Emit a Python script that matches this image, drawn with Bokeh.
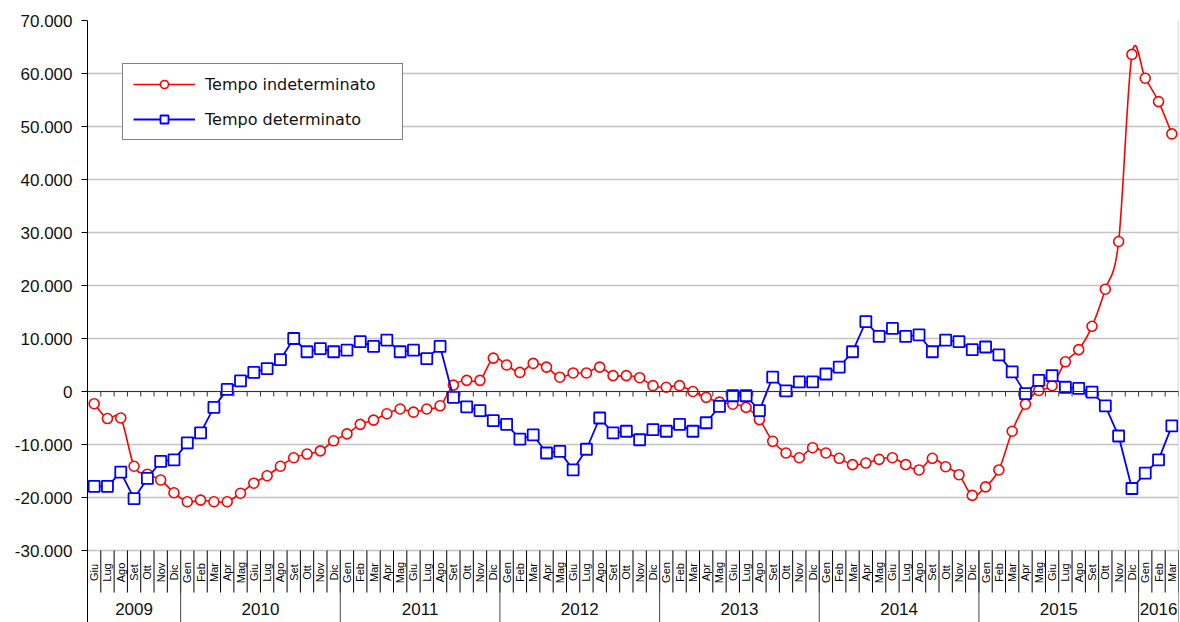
import numpy as np
from bokeh.plotting import figure
from bokeh.models import (Range1d, FixedTicker, LinearAxis, Legend, LegendItem,
                          ColumnDataSource, Grid, Span)
from bokeh.core.properties import value
from bokeh.embed import file_html
from bokeh.resources import INLINE

# ---------------- data ----------------
month_names = ["Gen", "Feb", "Mar", "Apr", "Mag", "Giu",
               "Lug", "Ago", "Set", "Ott", "Nov", "Dic"]
months = month_names[5:] + month_names * 6 + month_names[:3]   # Giu 2009 .. Mar 2016
years = ["2009", "2010", "2011", "2012", "2013", "2014", "2015", "2016"]
year_counts = [7, 12, 12, 12, 12, 12, 12, 3]

tempo_indeterminato = [
    -2300, -5100, -5000, -14100, -15600, -16700, -19100,
    -20800, -20500, -20800, -20800, -19200, -17300, -15900, -14100, -12500, -11800, -11200, -9300,
    -8000, -6200, -5400, -4200, -3300, -3900, -3300, -2700, 1200, 2100, 2100, 6300,
    5000, 3600, 5300, 4600, 2700, 3500, 3500, 4600, 3000, 3000, 2600, 1100,
    800, 1100, 0, -1100, -2000, -2400, -3000, -5300, -9400, -11600, -12500, -10600,
    -11600, -12600, -13800, -13500, -12800, -12500, -13800, -14800, -12600, -14200, -15700, -19600,
    -18000, -14800, -7500, -2400, 200, 1100, 5600, 7900, 12300, 19300, 28300, 63600,
    59100, 54700, 48600,
]
tempo_determinato = [
    -17900, -17900, -15200, -20200, -16400, -13200, -12900,
    -9700, -7800, -3000, 400, 2000, 3600, 4300, 6000, 10000, 7500, 8100, 7500,
    7800, 9400, 8500, 9700, 7500, 7800, 6200, 8500, -1100, -2900, -3600, -5500,
    -6200, -9000, -8200, -11600, -11300, -14800, -10900, -5000, -7800, -7500, -9100, -7200,
    -7500, -6200, -7500, -5900, -2800, -800, -800, -3600, 2700, 100, 1800, 1800,
    3300, 4600, 7500, 13200, 10400, 11900, 10400, 10700, 7500, 9700, 9400, 7900,
    8400, 6900, 3700, -400, 2100, 3000, 800, 600, -100, -2700, -8400, -18300,
    -15400, -12900, -6500,
]
y_ticks = [-30000, -20000, -10000, 0, 10000, 20000, 30000, 40000, 50000, 60000, 70000]

# ---------------- layout constants ----------------
W, H = 1180, 622
LEFT, TOP, RIGHT = 87, 20, 2
FRAME_H = H - TOP
PX_PER_UNIT = 530 / 100000.0           # -30.000 .. 70.000 spans 530 px
Y_TOP = 70000
Y_BOTTOM = Y_TOP - FRAME_H / PX_PER_UNIT


def py(px_from_frame_top):
    return Y_TOP - px_from_frame_top / PX_PER_UNIT


Y_MIN_PLOT = -30000
Y_MONTH_LABEL = py(552)
Y_MONTH_BOTTOM = py(572)
Y_YEAR_LABEL = py(588)
TICK_LEN = 5 / PX_PER_UNIT

n = len(months)
x = np.arange(n, dtype=float)

p = figure(width=W, height=H, output_backend="svg", toolbar_location=None, title=None,
           x_range=Range1d(-0.5, n - 0.5), y_range=Range1d(Y_BOTTOM, Y_TOP),
           x_axis_location=None, y_axis_location=None,
           min_border_left=LEFT, min_border_right=RIGHT, min_border_top=TOP, min_border_bottom=0)
p.outline_line_color = None
p.background_fill_color = "white"
p.border_fill_color = "white"
p.grid.visible = False

# y axis
labels = {float(v): (f"{v:,}".replace(",", ".")) for v in y_ticks}
yaxis = LinearAxis(ticker=FixedTicker(ticks=y_ticks), major_label_overrides=labels,
                   axis_line_color="black", axis_line_width=1,
                   major_tick_line_color="black", major_tick_out=6, major_tick_in=0,
                   minor_tick_line_color=None,
                   major_label_text_font="Liberation Sans",
                   major_label_text_font_size="17px", major_label_text_color="#111111",
                   major_label_standoff=9)
p.add_layout(yaxis, "left")

grid = Grid(dimension=1, ticker=FixedTicker(ticks=y_ticks),
            grid_line_color="#c4c4c4", grid_line_width=1.5)
p.add_layout(grid)

# right border of plot area
p.segment(x0=[n - 0.5], y0=[Y_MIN_PLOT], x1=[n - 0.5], y1=[Y_TOP],
          line_color="#c4c4c4", line_width=1.5)

# zero axis with tick marks
p.add_layout(Span(location=0, dimension="width", line_color="#333333", line_width=1.2))
bounds = np.arange(n + 1) - 0.5
p.segment(x0=bounds, y0=np.zeros(n + 1), x1=bounds, y1=np.full(n + 1, -TICK_LEN),
          line_color="#333333", line_width=1)

# category band: month separators, month labels, year separators and labels
p.segment(x0=bounds, y0=np.full(n + 1, Y_MIN_PLOT), x1=bounds, y1=np.full(n + 1, Y_MONTH_BOTTOM),
          line_color="black", line_width=1)
p.text(x=x, y=np.full(n, Y_MONTH_LABEL), text=months, angle=np.pi / 2,
       text_align="center", text_baseline="middle",
       text_font=value("Liberation Sans"), text_font_size="11px", text_color="black")

cum = np.cumsum([0] + year_counts)
ybounds = cum - 0.5
p.segment(x0=ybounds, y0=np.full(len(ybounds), Y_MIN_PLOT), x1=ybounds,
          y1=np.full(len(ybounds), Y_BOTTOM), line_color="#444444", line_width=1)
ycenters = (cum[:-1] + cum[1:] - 1) / 2.0
p.text(x=ycenters, y=np.full(len(years), Y_YEAR_LABEL), text=years,
       text_align="center", text_baseline="middle",
       text_font=value("Liberation Sans"), text_font_size="17px", text_color="#111111")

# ---------------- series ----------------
RED, BLUE = "#ff0000", "#0000ff"

# smoothed red line (Catmull-Rom style bezier through the data points)
yi = np.array(tempo_indeterminato, dtype=float)
xp = np.r_[x[0], x, x[-1]]
yp = np.r_[yi[0], yi, yi[-1]]
seg = np.arange(n - 1)
cx0 = x[seg] + (xp[seg + 2] - xp[seg]) / 6.0
cy0 = yi[seg] + (yp[seg + 2] - yp[seg]) / 6.0
cx1 = x[seg + 1] - (xp[seg + 3] - xp[seg + 1]) / 6.0
cy1 = yi[seg + 1] - (yp[seg + 3] - yp[seg + 1]) / 6.0
r_red_line = p.bezier(x0=x[seg], y0=yi[seg], x1=x[seg + 1], y1=yi[seg + 1],
                      cx0=cx0, cy0=cy0, cx1=cx1, cy1=cy1,
                      line_color=RED, line_width=1.6)
r_red_pts = p.scatter(x=x, y=yi, marker="circle", size=10, line_color=RED,
                      fill_color="white", line_width=1.6)

src_b = ColumnDataSource(dict(x=x, y=tempo_determinato))
r_blue_line = p.line("x", "y", source=src_b, line_color=BLUE, line_width=1.8)
r_blue_pts = p.scatter("x", "y", source=src_b, marker="square", size=11, line_color=BLUE,
                       fill_color="white", line_width=1.8)

legend = Legend(items=[LegendItem(label="Tempo indeterminato", renderers=[r_red_line, r_red_pts]),
                       LegendItem(label="Tempo determinato", renderers=[r_blue_line, r_blue_pts])],
                location=(35, FRAME_H - 45 - 75), orientation="vertical",
                label_text_font="DejaVu Sans", label_text_font_size="16px",
                label_text_color="#111111",
                glyph_width=62, glyph_height=20, label_height=20, label_width=187,
                label_standoff=10, spacing=15, padding=10, margin=0,
                border_line_color="black", border_line_width=1,
                background_fill_color="white", background_fill_alpha=1)
p.add_layout(legend, "center")

open("out.html", "w").write(file_html(p, INLINE))
